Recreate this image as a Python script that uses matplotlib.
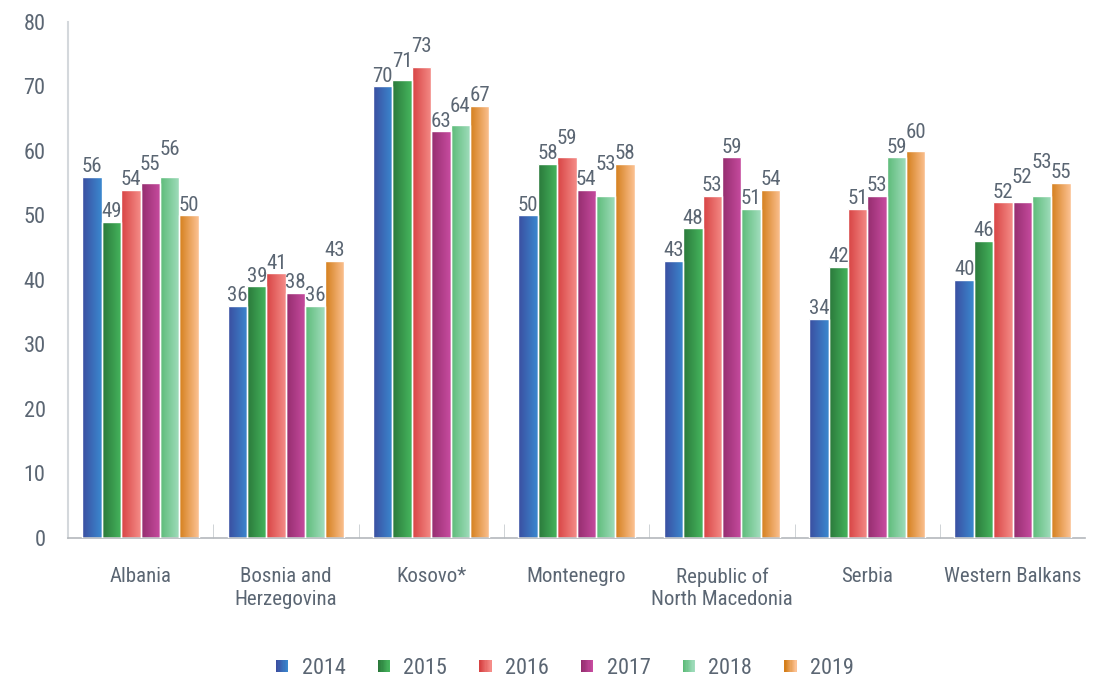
import matplotlib.pyplot as plt
import numpy as np
from matplotlib import font_manager
from matplotlib.colors import LinearSegmentedColormap
from matplotlib.legend_handler import HandlerBase
from matplotlib.patches import Rectangle

countries = ["Albania", "Bosnia and\nHerzegovina", "Kosovo*", "Montenegro",
             "Republic of\nNorth Macedonia", "Serbia", "Western Balkans"]
years = ["2014", "2015", "2016", "2017", "2018", "2019"]
v2014 = [56, 36, 70, 50, 43, 34, 40]
v2015 = [49, 39, 71, 58, 48, 42, 46]
v2016 = [54, 41, 73, 59, 53, 51, 52]
v2017 = [55, 38, 63, 54, 59, 53, 52]
v2018 = [56, 36, 64, 53, 51, 59, 53]
v2019 = [50, 43, 67, 58, 54, 60, 55]
series = [v2014, v2015, v2016, v2017, v2018, v2019]

# left -> right gradient colours per year
grads = [("#3b4ea0", "#3a88cf"), ("#2a783a", "#46b65e"), ("#d74343", "#f58c88"),
         ("#942d6e", "#c84ca0"), ("#5cbb78", "#a2ddbe"), ("#d47e1a", "#fcc294")]

TXT = "#5b6673"

# a narrow face if one is installed
names = set(f.name for f in font_manager.fontManager.ttflist)
narrow = None
for cand in ["Roboto Condensed", "Liberation Sans Narrow", "Open Sans Condensed"]:
    if cand in names:
        narrow = cand
        break
if narrow:
    plt.rcParams['font.family'] = [narrow, 'DejaVu Sans']
    FS = 15
else:
    plt.rcParams['font.family'] = ['Roboto', 'DejaVu Sans']
    FS = 12.5

fig = plt.figure(figsize=(11.12, 6.81), dpi=100)
ax = fig.add_axes([0.061, 0.210, 0.915, 0.758])

x = np.arange(len(countries))
w = 0.8 / len(years)
labels = [[None] * len(countries) for _ in years]
for s, vals in enumerate(series):
    cmap = LinearSegmentedColormap.from_list("g%d" % s, grads[s])
    grad = np.linspace(0, 1, 64).reshape(1, -1)
    pos = x - 0.4 + w * (s + 0.5)
    bars = ax.bar(pos, vals, w, color=grads[s][0], edgecolor="white", linewidth=1.0, zorder=2)
    for g, b in enumerate(bars):
        im = ax.imshow(grad, cmap=cmap, aspect="auto", zorder=2.5,
                       extent=[b.get_x(), b.get_x() + b.get_width(), 0, b.get_height()])
        im.set_clip_path(b)
        ax.add_patch(Rectangle((b.get_x(), 0), b.get_width(), b.get_height(), fill=False,
                               edgecolor="white", linewidth=1.0, zorder=3))
        labels[s][g] = ax.annotate(str(vals[g]), (pos[g], vals[g]), xytext=(0, 0.5),
                                   textcoords="offset points", ha="center", va="bottom",
                                   fontsize=FS, color=TXT, zorder=4)

ax.set_xlim(-0.5, len(countries) - 0.5)
ax.set_ylim(0, 80)
ax.set_yticks(range(0, 81, 10))
ax.set_xticks(x)
ax.set_xticklabels(countries, fontsize=FS, color=TXT, linespacing=1.25)
ax.set_xticks(x[:-1] + 0.5, minor=True)
ax.tick_params(axis="x", which="major", length=0, pad=21)
ax.tick_params(axis="x", which="minor", length=10, direction="in", color="#c8ccd0")
ax.tick_params(axis="y", length=0, pad=16, labelsize=FS + 1, labelcolor=TXT)
for sp in ["top", "right"]:
    ax.spines[sp].set_visible(False)
ax.spines["left"].set_color("#d4d8dc")
ax.spines["left"].set_linewidth(1.5)
ax.spines["bottom"].set_color("#b4b8bc")
ax.spines["bottom"].set_linewidth(1.2)


class GradHandler(HandlerBase):
    def __init__(self, cols):
        super().__init__()
        self.cols = cols

    def create_artists(self, legend, orig, xd, yd, width, height, fontsize, trans):
        cmap = LinearSegmentedColormap.from_list("h", self.cols)
        n = 10
        side = width
        left = -xd
        bottom = -yd + (height - side) / 2
        arts = []
        for i in range(n):
            arts.append(Rectangle((left + i * side / n, bottom), side / n * 1.05, side,
                                  facecolor=cmap(i / (n - 1)), edgecolor="none",
                                  transform=trans))
        return arts


handles = [Rectangle((0, 0), 1, 1) for _ in years]
leg = fig.legend(handles, years, loc="center", bbox_to_anchor=(0.508, 0.019), ncol=6,
                 frameon=False, fontsize=FS + 1, handlelength=0.55, handletextpad=0.6,
                 columnspacing=1.45,
                 handler_map={h: GradHandler(grads[i]) for i, h in enumerate(handles)})
for t in leg.get_texts():
    t.set_color(TXT)

# push overlapping value labels upward within each group
fig.canvas.draw()
r = fig.canvas.get_renderer()
NEAR = 9.7   # px: labels closer than this vertically collide
STEP = 15.0  # px: how far a colliding label is lifted above the other
PAD = 6.0    # px: horizontal padding around each label

for g in range(len(countries)):
    placed = []
    for s in range(len(years)):
        t = labels[s][g]
        for _ in range(10):
            bb = t.get_window_extent(r)
            moved = False
            for pb in placed:
                if bb.x1 + PAD > pb.x0 and bb.x0 - PAD < pb.x1 and abs(bb.y0 - pb.y0) < NEAR:
                    t.xyann = (0, t.xyann[1] + (pb.y0 + STEP - bb.y0) * 72 / fig.dpi)
                    moved = True
                    break
            if not moved:
                break
        placed.append(t.get_window_extent(r))

fig.savefig("out.png", dpi=100)
